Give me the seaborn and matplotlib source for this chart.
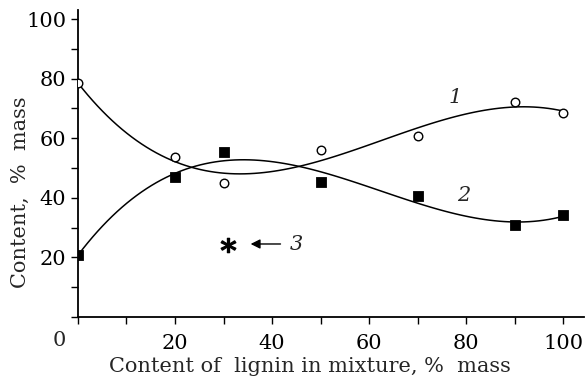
import numpy as np
import pandas as pd
import seaborn as sns
from matplotlib import pyplot as plt

# lignin content in mixture, % mass
lignin = [0, 20, 30, 50, 70, 90, 100]
curve1 = [78.5, 53.7, 45.0, 56.0, 60.7, 72.0, 68.6]   # open circles
curve2 = [20.7, 47.0, 55.4, 45.3, 40.7, 30.8, 34.1]   # filled squares
star_x = [31]
star_y = [24]

df = pd.DataFrame({'x': lignin, 'c1': curve1, 'c2': curve2})

sns.set_style('ticks')
plt.rcParams['font.family'] = ['DejaVu Serif']
plt.rcParams['mathtext.fontset'] = 'dejavuserif'

fig = plt.figure(figsize=(5.86, 3.76), dpi=100)
ax = fig.add_axes([0.133, 0.157, 0.864, 0.816])

sns.regplot(data=df, x='x', y='c1', order=3, ci=None, scatter=False, truncate=True,
            line_kws=dict(color='black', lw=1.1), ax=ax)
sns.regplot(data=df, x='x', y='c2', order=3, ci=None, scatter=False, truncate=True,
            line_kws=dict(color='black', lw=1.1), ax=ax)
sns.scatterplot(data=df, x='x', y='c1', marker='o', s=38, facecolor='white',
                edgecolor='black', linewidth=1.0, zorder=5, ax=ax)
sns.scatterplot(data=df, x='x', y='c2', marker='s', s=55, color='black',
                edgecolor='black', zorder=5, ax=ax)
ax.scatter(star_x, star_y, marker='$\\ast$', s=110, color='black', zorder=5)

ax.set_xlim(0, 104.3)
ax.set_ylim(0, 103)
ax.set_xticks(np.arange(0, 101, 10))
ax.set_xticklabels(['' if v % 20 or v == 0 else str(v) for v in range(0, 101, 10)])
ax.set_yticks(np.arange(0, 101, 10))
ax.set_yticklabels(['' if v % 20 or v == 0 else str(v) for v in range(0, 101, 10)])
ax.tick_params(direction='out', length=5, width=1, labelsize=15, colors='black')
ax.tick_params(axis='x', pad=7)
for s in ['top', 'right']:
    ax.spines[s].set_visible(False)
for s in ['left', 'bottom']:
    ax.spines[s].set_linewidth(1.3)
    ax.spines[s].set_color('black')

ax.text(-3.8, -8, '0', fontsize=15, ha='center', va='center')
ax.set_xlabel('')
ax.set_ylabel('')
fig.text(310 / 586, 1 - 366 / 376, 'Content of  lignin in mixture, %  mass',
         fontsize=15, ha='center', va='center')
fig.text(20 / 586, 1 - 192 / 376, 'Content,  %  mass', fontsize=15,
         rotation=90, ha='center', va='center')

ax.text(77.7, 73.8, '1', fontsize=15, style='italic', ha='center', va='center')
ax.text(79.5, 40.8, '2', fontsize=15, style='italic', ha='center', va='center')
ax.text(45, 24.4, '3', fontsize=15, style='italic', ha='center', va='center')
ax.annotate('', xy=(35, 24.5), xytext=(42.3, 24.5),
            arrowprops=dict(arrowstyle='-|>', color='black', lw=1.0, mutation_scale=14))

fig.savefig('out.png', dpi=100)
